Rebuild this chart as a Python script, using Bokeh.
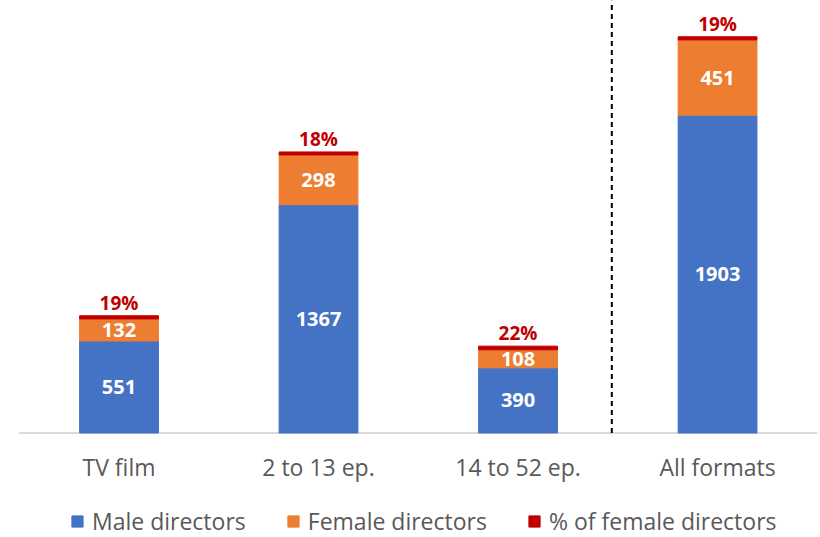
from bokeh.plotting import figure
from bokeh.models import (ColumnDataSource, Legend, LegendItem, Range1d, LabelSet)
from bokeh.core.properties import value
from bokeh.embed import file_html
from bokeh.resources import INLINE

categories = ["TV film", "2 to 13 ep.", "14 to 52 ep.", "All formats"]
male = [551, 1367, 390, 1903]
female = [132, 298, 108, 451]
pct = [19, 18, 22, 19]

BLUE = "#4472C4"
ORANGE = "#ED7D31"
RED = "#C00000"
GREY = "#595959"
FONT = value("Open Sans")

Y_TOP = 2590
Y_BOTTOM = -626
DIVIDER = 2.47

xs = list(range(len(categories)))
total = [m + f for m, f in zip(male, female)]
src = ColumnDataSource(dict(
    x=xs,
    zero=[0] * len(xs),
    cat=categories,
    male=male,
    female=female,
    total=total,
    pct_top=[t + p for t, p in zip(total, pct)],
    male_mid=[m / 2 for m in male],
    fem_mid=[m + f / 2 for m, f in zip(male, female)],
    male_lbl=[str(m) for m in male],
    fem_lbl=[str(f) for f in female],
    pct_lbl=[f"{p}%" for p in pct],
))

p = figure(width=820, height=537, x_range=Range1d(-0.594, 3.516),
           y_range=Range1d(Y_BOTTOM, Y_TOP), output_backend="svg",
           toolbar_location=None, min_border=0)
p.xaxis.visible = False
p.yaxis.visible = False
p.xgrid.visible = False
p.ygrid.visible = False
p.outline_line_color = None

# baseline (category axis line)
p.segment(x0=[xs[0] - 0.5], x1=[xs[-1] + 0.5], y0=[0], y1=[0],
          line_color="#D9D9D9", line_width=2)

W = 0.395
r_m = p.vbar(x="x", bottom=0, top="male", width=W, color=BLUE, source=src)
r_f = p.vbar(x="x", bottom="male", top="total", width=W, color=ORANGE, source=src)
r_p = p.vbar(x="x", bottom="total", top="pct_top", width=W, color=RED, source=src)

# divider
p.segment(x0=[DIVIDER], x1=[DIVIDER], y0=[0], y1=[Y_TOP], line_color="black",
          line_width=2, line_dash="5 4")

p.add_layout(LabelSet(x="x", y="male_mid", text="male_lbl", source=src,
                      text_align="center", text_baseline="middle",
                      text_color="white", text_font=FONT, text_font_style="bold",
                      text_font_size="20px"))
p.add_layout(LabelSet(x="x", y="fem_mid", text="fem_lbl", source=src,
                      text_align="center", text_baseline="middle",
                      text_color="white", text_font=FONT, text_font_style="bold",
                      text_font_size="20px"))
p.add_layout(LabelSet(x="x", y="pct_top", text="pct_lbl", source=src,
                      text_align="center", text_baseline="middle", y_offset=13,
                      text_color=RED, text_font=FONT, text_font_style="bold",
                      text_font_size="19px"))
p.add_layout(LabelSet(x="x", y="zero", text="cat", source=src,
                      text_align="center", text_baseline="middle", y_offset=-34,
                      text_color=GREY, text_font=FONT, text_font_size="23px"))

legend = Legend(items=[LegendItem(label="Male directors", renderers=[r_m]),
                       LegendItem(label="Female directors", renderers=[r_f]),
                       LegendItem(label="% of female directors", renderers=[r_p])],
                orientation="horizontal", location=(70, 0),
                glyph_width=14, glyph_height=14, label_standoff=8, spacing=40,
                label_text_font="Open Sans", label_text_font_size="23px",
                label_text_color=GREY, border_line_color=None,
                background_fill_alpha=0, padding=0, margin=0)
p.add_layout(legend)

open("out.html", "w").write(file_html(p, INLINE))
